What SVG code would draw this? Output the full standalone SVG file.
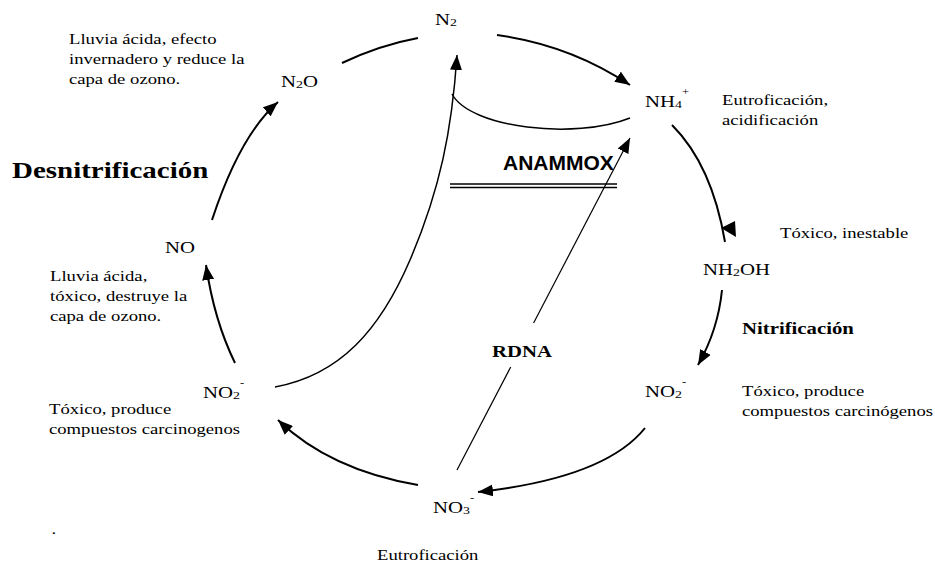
<svg xmlns="http://www.w3.org/2000/svg" width="935" height="564" viewBox="0 0 935 564">
<defs>
<style>
.t{font-family:"Liberation Serif","Times New Roman",serif;font-size:14.8px;fill:#000}
.n{font-family:"Liberation Serif","Times New Roman",serif;font-size:16.5px;fill:#000}
.b{font-weight:bold}
.sub{font-size:11px}
.sup{font-size:10px}
.ana{font-family:"Liberation Sans",Arial,sans-serif;font-size:21px;font-weight:bold;fill:#000}
.c{fill:none;stroke:#000;stroke-width:2}
.c2{fill:none;stroke:#000;stroke-width:1.5}
.c3{fill:none;stroke:#000;stroke-width:1.2}
.head{fill:#000;stroke:none}
</style>
<marker id="ah" markerUnits="userSpaceOnUse" markerWidth="15" markerHeight="12" viewBox="0 0 15 12" refX="15" refY="6" orient="auto">
<path d="M0,0 L15,6 L0,12 z" class="head"/>
</marker>
</defs>
<rect width="935" height="564" fill="#fff"/>

<g id="connectors">
<path class="c" d="M497,35 Q570,45 630,85" marker-end="url(#ah)"/>
<path class="c2" d="M452,94 C470,128 575,140 630,118"/>
<path class="c2" d="M275,387 C340,375 380,330 410,260 C440,190 452,130 457,55" marker-end="url(#ah)"/>
<path class="c" d="M672,125 Q712,165 725,242"/>
<polygon class="head" points="735,221 736,237 721,228"/>
<path class="c" d="M722,290 Q718,330 698,365" marker-end="url(#ah)"/>
<path class="c" d="M645,428 Q605,478 478,492" marker-end="url(#ah)"/>
<path class="c" d="M418,485 Q330,470 278,420" marker-end="url(#ah)"/>
<path class="c" d="M235,363 Q214,320 206,265" marker-end="url(#ah)"/>
<path class="c" d="M212,220 Q240,135 278,102" marker-end="url(#ah)"/>
<path class="c" d="M342,63 Q380,45 418,38"/>
<path class="c3" d="M457,470 L510.7,367"/>
<path class="c3" d="M533.6,323 L630,138" marker-end="url(#ah)"/>
<line class="c2" x1="450" y1="184" x2="617" y2="184"/>
<line class="c2" x1="450" y1="187.5" x2="617" y2="187.5"/>
</g>

<g id="node-n2"><text class="n" transform="translate(435,25) scale(1.26,1)">N<tspan class="sub" y="1">2</tspan></text></g>
<g id="node-nh4"><text class="n" transform="translate(645,107) scale(1.26,1)">NH<tspan class="sub" y="1">4</tspan><tspan class="sup" y="-12">+</tspan></text></g>
<g id="node-nh2oh"><text class="n" transform="translate(703,275) scale(1.26,1)">NH<tspan class="sub" y="1">2</tspan><tspan y="0">OH</tspan></text></g>
<g id="node-no2-right"><text class="n" transform="translate(645,397) scale(1.26,1)">NO<tspan class="sub" y="1">2</tspan><tspan class="sup" y="-12">-</tspan></text></g>
<g id="node-no3"><text class="n" transform="translate(433,513) scale(1.26,1)">NO<tspan class="sub" y="1">3</tspan><tspan class="sup" y="-12">-</tspan></text></g>
<g id="node-no2-left"><text class="n" transform="translate(203,398) scale(1.26,1)">NO<tspan class="sub" y="1">2</tspan><tspan class="sup" y="-12">-</tspan></text></g>
<g id="node-no"><text class="n" transform="translate(165,253) scale(1.26,1)">NO</text></g>
<g id="node-n2o"><text class="n" transform="translate(281,87) scale(1.26,1)">N<tspan class="sub" y="1">2</tspan><tspan y="0">O</tspan></text></g>

<g id="labels">
<text class="t" transform="translate(69,43.5) scale(1.26,1)"><tspan x="0" y="0">Lluvia ácida, efecto</tspan><tspan x="0" y="20.5">invernadero y reduce la</tspan><tspan x="0" y="41">capa de ozono.</tspan></text>
<text class="t b" style="font-size:23px" transform="translate(12,178) scale(1.26,1)">Desnitrificación</text>
<text class="t" transform="translate(50,280.5) scale(1.26,1)"><tspan x="0" y="0">Lluvia ácida,</tspan><tspan x="0" y="20.5">tóxico, destruye la</tspan><tspan x="0" y="41">capa de ozono.</tspan></text>
<text class="t" transform="translate(49,413.5) scale(1.26,1)"><tspan x="0" y="0">Tóxico, produce</tspan><tspan x="0" y="20.5">compuestos carcinogenos</tspan></text>
<text class="t" transform="translate(51.5,533.5) scale(1.26,1)">.</text>
<text class="t" transform="translate(377,560) scale(1.26,1)">Eutroficación</text>
<text class="n b" transform="translate(492,357) scale(1.26,1)">RDNA</text>
<text class="ana" x="503" y="170">ANAMMOX</text>
<text class="t" transform="translate(722,105) scale(1.26,1)"><tspan x="0" y="0">Eutroficación,</tspan><tspan x="0" y="20">acidificación</tspan></text>
<text class="t" transform="translate(780,237.5) scale(1.26,1)">Tóxico, inestable</text>
<text class="n b" transform="translate(742,334) scale(1.26,1)">Nitrificación</text>
<text class="t" transform="translate(742,395.5) scale(1.26,1)"><tspan x="0" y="0">Tóxico, produce</tspan><tspan x="0" y="20.5">compuestos carcinógenos</tspan></text>
</g>
</svg>
